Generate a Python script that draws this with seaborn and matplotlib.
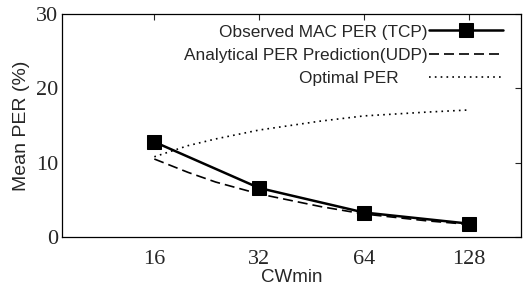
import numpy as np
import pandas as pd
import seaborn as sns
from matplotlib import pyplot as plt

# --- data ---
cw_obs = [16, 32, 64, 128]
per_obs = [12.8, 6.6, 3.3, 1.8]

cw_curve = [16, 20, 24, 32, 48, 64, 96, 128]
per_analytical = [10.5, 8.7, 7.4, 5.8, 4.1, 3.1, 2.2, 1.7]
per_optimal = [10.8, 12.3, 13.2, 14.4, 15.6, 16.3, 16.8, 17.1]

x_ticks = [16, 32, 64, 128]
y_ticks = [0, 10, 20, 30]

sns.set_style("white")
plt.rcParams['font.family'] = ['Liberation Sans', 'DejaVu Sans']

fig = plt.figure(figsize=(5.27, 2.88), dpi=100)
ax = fig.add_axes([0.118, 0.177, 0.871, 0.774])

sns.lineplot(x=cw_obs, y=per_obs, ax=ax, color='black', linewidth=1.8,
             marker='s', markersize=10, markeredgecolor='black',
             label='Observed MAC PER (TCP)')
sns.lineplot(x=cw_curve, y=per_analytical, ax=ax, color='black', linewidth=1.2,
             dashes=False, linestyle=(0, (6, 3)),
             label='Analytical PER Prediction(UDP)')
sns.lineplot(x=cw_curve, y=per_optimal, ax=ax, color='black', linewidth=1.2,
             linestyle=(0, (1, 2.5)), label='Optimal PER      ')

ax.set_xscale('log', base=2)
ax.set_xlim(8.7, 181)
ax.set_ylim(0, 30)
ax.set_xticks(x_ticks)
ax.set_xticklabels([str(v) for v in x_ticks])
ax.set_yticks(y_ticks)
ax.minorticks_off()
ax.tick_params(direction='in', length=4, width=0.8, top=True, right=True,
               labelsize=16)
ax.tick_params(axis='x', pad=9)
ax.tick_params(axis='y', pad=3)
for lbl in ax.get_xticklabels() + ax.get_yticklabels():
    lbl.set_family('Liberation Serif')

for s in ax.spines.values():
    s.set_color('black')
    s.set_linewidth(0.9)

ax.set_xlabel('CWmin', fontsize=13.5, labelpad=0.5)
ax.set_ylabel('Mean PER (%)', fontsize=14, labelpad=4)

leg = ax.legend(loc='upper right', bbox_to_anchor=(0.983, 1.0), frameon=False,
                markerfirst=False, fontsize=12.4, handlelength=4.3,
                handletextpad=0.1, labelspacing=0.48, borderaxespad=0.2)

fig.savefig('out.png', dpi=100)
